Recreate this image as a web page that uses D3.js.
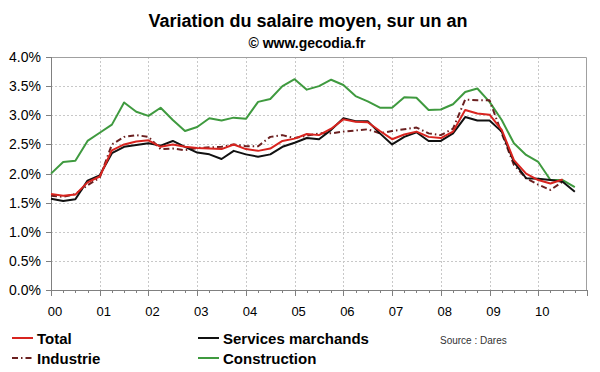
<!DOCTYPE html>
<html lang="fr">
<head>
<meta charset="UTF-8">
<title>Variation du salaire moyen</title>
<script src="https://d3js.org/d3.v7.min.js"></script>
<style>
    body { margin: 0; background: #fff; }
    svg { font-family: "Liberation Sans", Arial, sans-serif; }
    .axis path, .axis line { fill: none; stroke: #808080; shape-rendering: crispEdges; }
    .axis text { font-size: 13px; fill: #000; }
    .grid line { stroke: #c8c8c8; stroke-dasharray: 2,2; shape-rendering: crispEdges; }
</style>
</head>
<body>
<script>
    // quarterly data, 2000Q1 .. 2010Q4
    var years = ["00", "01", "02", "03", "04", "05", "06", "07", "08", "09", "10"];
    var yTicks = [0, 0.5, 1, 1.5, 2, 2.5, 3, 3.5, 4];

    var total = [1.65, 1.62, 1.64, 1.85, 1.95, 2.40, 2.50, 2.55, 2.57, 2.46, 2.50,
        2.46, 2.44, 2.43, 2.42, 2.50, 2.42, 2.39, 2.43, 2.56, 2.60, 2.68, 2.66,
        2.77, 2.93, 2.89, 2.88, 2.73, 2.59, 2.67, 2.72, 2.63, 2.61, 2.72, 3.09,
        3.03, 3.01, 2.75, 2.23, 2.00, 1.89, 1.83, 1.90];
    var services = [1.57, 1.53, 1.56, 1.88, 1.97, 2.35, 2.46, 2.49, 2.52, 2.48, 2.56,
        2.46, 2.36, 2.33, 2.25, 2.39, 2.33, 2.29, 2.33, 2.46, 2.53, 2.61, 2.59,
        2.75, 2.95, 2.90, 2.90, 2.69, 2.50, 2.63, 2.71, 2.56, 2.56, 2.69, 2.97,
        2.91, 2.91, 2.72, 2.20, 1.92, 1.91, 1.89, 1.86, 1.69];
    var industrie = [1.62, 1.60, 1.65, 1.80, 1.93, 2.50, 2.63, 2.66, 2.63, 2.42, 2.43,
        2.40, 2.44, 2.45, 2.46, 2.50, 2.47, 2.47, 2.63, 2.66, 2.61, 2.65, 2.69,
        2.69, 2.72, 2.74, 2.76, 2.69, 2.73, 2.76, 2.79, 2.69, 2.66, 2.77, 3.27,
        3.26, 3.26, 2.69, 2.15, 1.92, 1.81, 1.72, 1.86];
    var construction = [2.00, 2.20, 2.22, 2.56, 2.70, 2.84, 3.22, 3.06, 2.99, 3.13, 2.92,
        2.73, 2.80, 2.95, 2.91, 2.96, 2.94, 3.23, 3.28, 3.50, 3.62, 3.44, 3.50,
        3.61, 3.52, 3.33, 3.24, 3.13, 3.13, 3.31, 3.30, 3.09, 3.10, 3.19, 3.40,
        3.46, 3.23, 2.92, 2.52, 2.32, 2.20, 1.89, 1.89, 1.77];

    var series = [
        { name: "Construction", values: construction, color: "#3f9a3f", dash: null },
        { name: "Industrie", values: industrie, color: "#6b2020", dash: "6,3,1.5,3" },
        { name: "Services marchands", values: services, color: "#111", dash: null },
        { name: "Total", values: total, color: "#d8241f", dash: null }
    ];

    var w = 600, h = 372;
    var m = { top: 57, right: 13, bottom: 82, left: 51 };

    var svg = d3.select("body").append("svg")
        .attr("width", w)
        .attr("height", h);

    var x = d3.scaleLinear().domain([0, 44]).range([m.left, w - m.right]);
    var y = d3.scaleLinear().domain([0, 4]).range([h - m.bottom + 0.2, m.top]);

    // grid
    var grid = svg.append("g").attr("class", "grid");
    grid.selectAll(".gy").data(yTicks.slice(1, -1)).enter().append("line")
        .attr("x1", m.left).attr("x2", w - m.right)
        .attr("y1", d => Math.round(y(d)) + 0.5).attr("y2", d => Math.round(y(d)) + 0.5);
    grid.selectAll(".gx").data(d3.range(4, 44, 4)).enter().append("line")
        .attr("y1", m.top).attr("y2", h - m.bottom)
        .attr("x1", d => Math.round(x(d)) + 0.5).attr("x2", d => Math.round(x(d)) + 0.5);

    // frame top / right
    svg.append("path")
        .attr("d", "M" + m.left + "," + (m.top + 0.5) + "H" + (w - m.right - 0.5) + "V" + (h - m.bottom))
        .attr("fill", "none").attr("stroke", "#a0a0a0");

    // y axis
    svg.append("g")
        .attr("class", "axis")
        .attr("transform", "translate(" + m.left + ",0)")
        .call(d3.axisLeft(y).tickValues(yTicks).tickSize(5).tickPadding(5)
            .tickFormat(d => d.toFixed(1) + "%"))
        .call(g => g.selectAll("text").style("font-size", "14px"));

    // x axis: minor tick each quarter, major each year
    var xa = svg.append("g")
        .attr("class", "axis")
        .attr("transform", "translate(0," + (h - m.bottom) + ")");
    xa.call(d3.axisBottom(x).tickValues(d3.range(0, 45)).tickSize(3).tickFormat(""));
    xa.selectAll(".tick line").filter(d => d % 4 === 0).attr("y2", 6);
    xa.selectAll(".yl").data(years).enter().append("text")
        .attr("x", (d, i) => x(i * 4) + 4)
        .attr("y", 26)
        .attr("text-anchor", "middle")
        .style("font-size", "13px")
        .text(d => d);

    // lines
    var line = d3.line().x((d, i) => x(i)).y(d => y(d));
    svg.selectAll(".serie").data(series).enter().append("path")
        .attr("fill", "none")
        .attr("stroke", d => d.color)
        .attr("stroke-width", 2)
        .attr("stroke-linejoin", "round")
        .attr("stroke-dasharray", d => d.dash)
        .attr("d", d => line(d.values));

    // titles
    svg.append("text").attr("x", 308).attr("y", 27).attr("text-anchor", "middle")
        .style("font-size", "18px").style("font-weight", "bold")
        .text("Variation du salaire moyen, sur un an");
    svg.append("text").attr("x", 307).attr("y", 48).attr("text-anchor", "middle")
        .style("font-size", "14px").style("font-weight", "bold")
        .text("\u00a9 www.gecodia.fr");

    // legend
    var legend = [
        { name: "Total", color: "#d8241f", dash: null, lx: 12, ly: 338 },
        { name: "Services marchands", color: "#111", dash: null, lx: 198, ly: 338 },
        { name: "Industrie", color: "#6b2020", dash: "6,3,1.5,3", lx: 12, ly: 358 },
        { name: "Construction", color: "#3f9a3f", dash: null, lx: 198, ly: 358 }
    ];
    var lg = svg.selectAll(".lg").data(legend).enter().append("g")
        .attr("transform", d => "translate(" + d.lx + "," + d.ly + ")");
    lg.append("line").attr("x1", 0).attr("x2", 21).attr("y1", 0).attr("y2", 0)
        .attr("stroke", d => d.color).attr("stroke-width", 2)
        .attr("stroke-dasharray", d => d.dash);
    lg.append("text").attr("x", 25).attr("y", 5.5)
        .style("font-size", "15px").style("font-weight", "bold")
        .text(d => d.name);

    svg.append("text").attr("x", 440).attr("y", 344)
        .style("font-size", "10px").style("fill", "#333")
        .text("Source : Dares");
</script>
</body>
</html>
